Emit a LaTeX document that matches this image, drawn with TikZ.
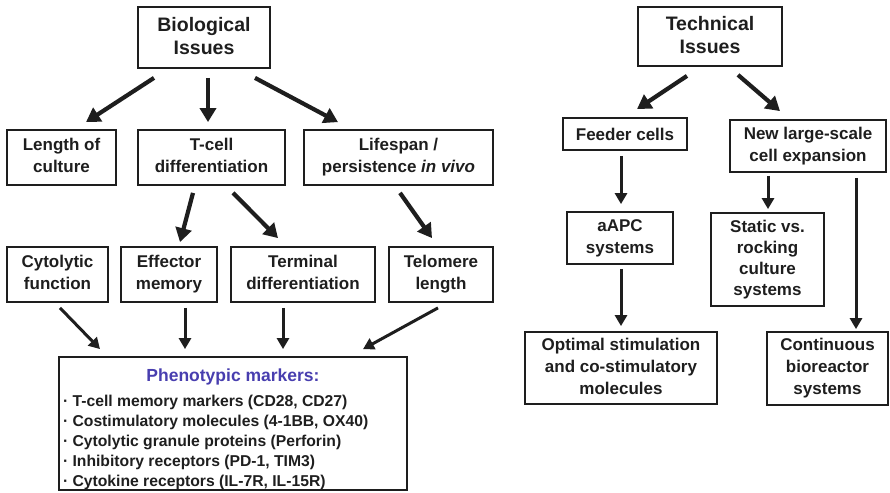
\documentclass[tikz,border=0pt]{standalone}
\usepackage{fontspec}
\setmainfont{Liberation Sans}
\usetikzlibrary{arrows.meta}
\definecolor{ink}{HTML}{1E1E1E}
\definecolor{markerblue}{RGB}{72,62,175}
\begin{document}
\begin{tikzpicture}[x=1pt,y=-1pt,
  box/.style={draw=ink, line width=1.8pt, inner sep=0pt, align=center, text=ink,
    font=\bfseries\fontsize{17}{22}\selectfont,
    execute at begin node={\rule{0pt}{0.93em}},
    execute at end node={\rule[-0.21em]{0pt}{0pt}}},
  headbox/.style={box, font=\bfseries\fontsize{19.5}{23}\selectfont},
  bigarrow/.style={draw=ink, line width=4.2pt, -{Triangle[length=14pt,width=16pt]}},
  midarrow/.style={draw=ink, line width=3pt, -{Triangle[length=11pt,width=12pt]}},
  ]
\useasboundingbox (0,0) rectangle (890,492);

% ---- biological branch ----
\node[headbox, minimum width=132pt, minimum height=61pt] (bio) at (204,37.5) {Biological\\Issues};
\node[box, minimum width=109pt, minimum height=55pt] (len) at (61.5,157.5) {Length of\\culture};
\node[box, minimum width=147pt, minimum height=55pt] (tcell) at (211.5,157.5) {T-cell\\differentiation};
\node[box, minimum width=189pt, minimum height=55pt] (life) at (398.5,157.5) {Lifespan /\\persistence \textit{in vivo}};
\node[box, minimum width=101pt, minimum height=55pt] (cyt) at (57.5,274.5) {Cytolytic\\function};
\node[box, minimum width=96pt, minimum height=55pt] (eff) at (169,274.5) {Effector\\memory};
\node[box, minimum width=144pt, minimum height=55pt] (term) at (303,274.5) {Terminal\\differentiation};
\node[box, minimum width=104pt, minimum height=55pt] (telo) at (441,274.5) {Telomere\\length};

% marker list: fixed-height parbox, content hung from the top
\node[draw=ink, line width=1.8pt, inner xsep=4pt, inner ysep=4pt, text=ink,
  font=\bfseries\fontsize{15.7}{20}\selectfont]
  (pheno) at (233,423.5) {\parbox[c][125pt][t]{340pt}{\setlength{\parindent}{0pt}%
  \vspace*{7.7pt}{\centering\color{markerblue}\fontsize{17.5}{20}\selectfont Phenotypic markers:\par}
  \vspace{5.5pt}
  · T-cell memory markers (CD28, CD27)\par
  · Costimulatory molecules (4-1BB, OX40)\par
  · Cytolytic granule proteins (Perforin)\par
  · Inhibitory receptors (PD-1, TIM3)\par
  · Cytokine receptors (IL-7R, IL-15R)\par}};

\draw[bigarrow] ([xshift=-50pt,yshift=-9pt]bio.south) -- ([xshift=24.5pt,yshift=7pt]len.north);
\draw[bigarrow] ([xshift=4pt,yshift=-9pt]bio.south) -- ([xshift=-3.5pt,yshift=7pt]tcell.north);
\draw[bigarrow] ([xshift=51pt,yshift=-9pt]bio.south) -- ([xshift=-60.5pt,yshift=7pt]life.north);

\draw[bigarrow] ([xshift=-18.5pt,yshift=-7pt]tcell.south) -- ([xshift=11pt,yshift=4pt]eff.north);
\draw[bigarrow] ([xshift=21.5pt,yshift=-7pt]tcell.south) -- ([xshift=-25pt,yshift=8pt]term.north);
\draw[bigarrow] ([xshift=1.5pt,yshift=-7pt]life.south) -- ([xshift=-9pt,yshift=8pt]telo.north);

\draw[midarrow] ([xshift=2.5pt,yshift=-5pt]cyt.south) -- ([xshift=-133pt,yshift=7pt]pheno.north);
\draw[midarrow] ([xshift=16pt,yshift=-5pt]eff.south) -- ([xshift=-48pt,yshift=7pt]pheno.north);
\draw[midarrow] ([xshift=-20pt,yshift=-5pt]term.south) -- ([xshift=50pt,yshift=7pt]pheno.north);
\draw[midarrow] ([xshift=-3pt,yshift=-5pt]telo.south) -- ([xshift=130pt,yshift=7pt]pheno.north);

% ---- technical branch ----
\node[headbox, minimum width=144pt, minimum height=59pt] (tech) at (710,36.5) {Technical\\Issues};
\node[box, minimum width=124pt, minimum height=32pt] (feed) at (625,134) {Feeder cells};
\node[box, minimum width=156pt, minimum height=52pt] (newl) at (808,146) {New large-scale\\cell expansion};
\node[box, minimum width=106pt, minimum height=52pt] (aapc) at (620,238) {aAPC\\systems};
\node[box, minimum width=192pt, minimum height=72pt] (opt) at (621,368) {Optimal stimulation\\and co-stimulatory\\molecules};
\node[box, minimum width=113pt, minimum height=93pt, font=\bfseries\fontsize{17}{21}\selectfont] (stat) at (767.5,259.5) {Static vs.\\rocking\\culture\\systems};
\node[box, minimum width=121pt, minimum height=73pt] (cont) at (827.5,368.5) {Continuous\\bioreactor\\systems};

\draw[bigarrow] ([xshift=-23pt,yshift=-9pt]tech.south) -- ([xshift=12pt,yshift=8pt]feed.north);
\draw[bigarrow] ([xshift=28pt,yshift=-8pt]tech.south) -- ([xshift=-28pt,yshift=8pt]newl.north);
\draw[midarrow] ([xshift=-4pt,yshift=-5pt]feed.south) -- ([xshift=1pt,yshift=7pt]aapc.north);
\draw[midarrow] ([xshift=1pt,yshift=-4pt]aapc.south) -- ([xshift=0pt,yshift=5pt]opt.north);
\draw[midarrow] ([xshift=-40pt,yshift=-3pt]newl.south) -- ([xshift=0.5pt,yshift=3pt]stat.north);
\draw[midarrow] ([xshift=48pt,yshift=-5pt]newl.south) -- ([xshift=28.5pt,yshift=2pt]cont.north);
\end{tikzpicture}
\end{document}
